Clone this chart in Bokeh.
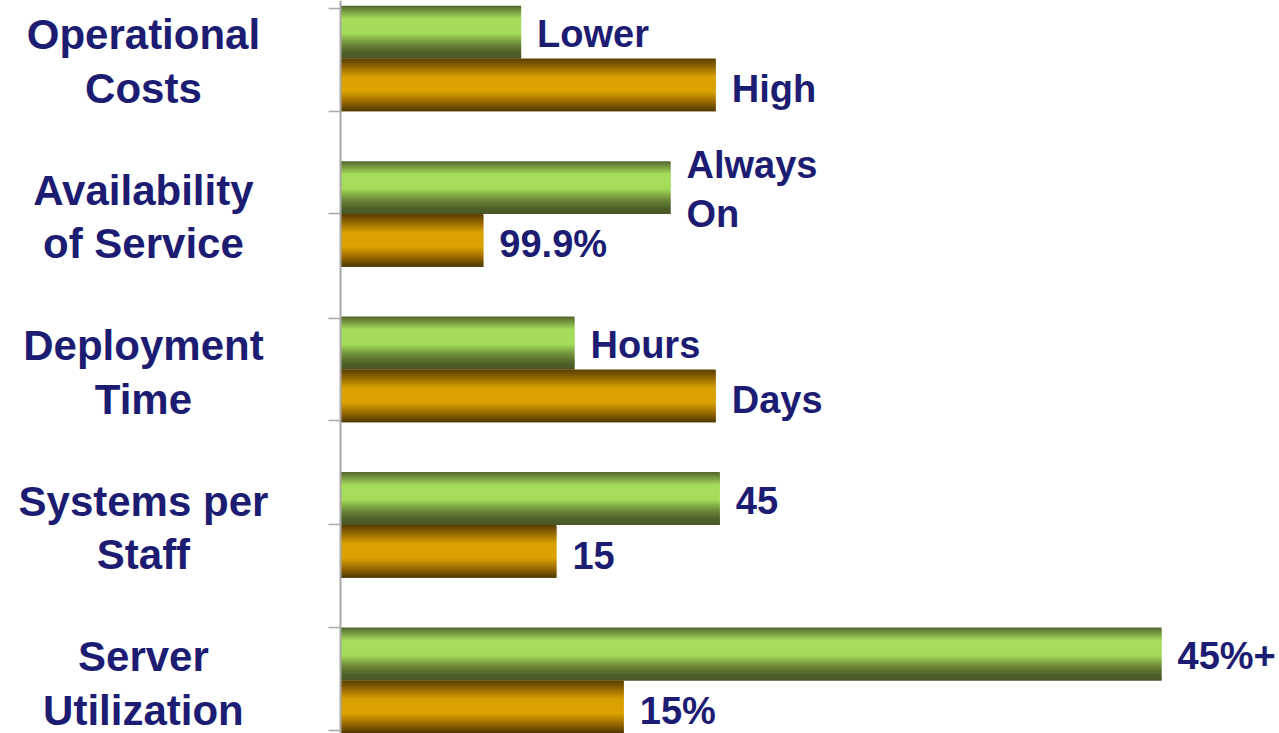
import numpy as np
from bokeh.plotting import figure
from bokeh.models import Range1d, LinearAxis, FixedTicker, ColumnDataSource
from bokeh.core.properties import value
from bokeh.embed import file_html
from bokeh.resources import INLINE

# ---------------- data ----------------
categories = ["Operational\nCosts", "Availability\nof Service", "Deployment\nTime",
              "Systems per\nStaff", "Server\nUtilization"]
new_values = [22.0, 40.2, 28.5, 46.2, 100.0]          # green bars (relative length)
new_labels = ["Lower", "Always\nOn", "Hours", "45", "45%+"]
old_values = [45.7, 17.4, 45.7, 26.3, 34.5]           # orange bars (relative length)
old_labels = ["High", "99.9%", "Days", "15", "15%"]
axis_ticks = [-0.32, 0.34, 1.0, 1.67, 2.33, 3.0, 3.66, 4.32]

# ---------------- style ----------------
TEXT_COLOR = "#1c1c72"
FONT = "Liberation Sans"
BAR_H = 0.34
N_STRIPS = 40
GREEN_STOPS = [(0.0, "#4f662c"), (0.1, "#76963f"), (0.25, "#a6de5c"), (0.52, "#a4dc5a"),
               (0.72, "#6f8c3a"), (0.88, "#4e6229"), (1.0, "#4a5526")]
ORANGE_STOPS = [(0.0, "#5a4000"), (0.14, "#8c6200"), (0.35, "#d9a000"), (0.62, "#dca200"),
                (0.82, "#9a6a00"), (1.0, "#4e3600")]


def hex2rgb(h):
    h = h.lstrip("#")
    return np.array([int(h[i:i + 2], 16) for i in (0, 2, 4)], dtype=float)


def grad_color(stops, t):
    ts = [s[0] for s in stops]
    cs = [hex2rgb(s[1]) for s in stops]
    for k in range(len(ts) - 1):
        if ts[k] <= t <= ts[k + 1]:
            f = (t - ts[k]) / (ts[k + 1] - ts[k])
            c = cs[k] * (1 - f) + cs[k + 1] * f
            return "#%02x%02x%02x" % tuple(int(round(v)) for v in c)
    return stops[-1][1]


def strips(vals, tops, stops):
    # each bar is painted as thin horizontal strips to imitate a vertical gradient
    ys, hs, rights, colors = [], [], [], []
    sh = BAR_H / N_STRIPS
    for v, top in zip(vals, tops):
        for k in range(N_STRIPS):
            t = (k + 0.5) / N_STRIPS
            # strips overlap the next one (except the last) to avoid seams
            if k < N_STRIPS - 1:
                ys.append(top + k * sh + sh)
                hs.append(2 * sh)
            else:
                ys.append(top + t * BAR_H)
                hs.append(sh)
            rights.append(v)
            colors.append(grad_color(stops, t))
    return dict(y=ys, h=hs, right=rights, color=colors)


centers = list(range(len(categories)))
green_tops = [c - BAR_H for c in centers]
orange_tops = [c for c in centers]

p = figure(width=1279, height=733, output_backend="svg", toolbar_location=None,
           x_range=Range1d(-41.41, 114.37), y_range=Range1d(4.341, -0.373),
           x_axis_type=None, y_axis_type=None, min_border=0,
           outline_line_color=None, background_fill_color="white")
p.grid.visible = False

# axis on the left of the bars, at x = 0
ax = LinearAxis(ticker=FixedTicker(ticks=axis_ticks), fixed_location=0,
                axis_line_color="#a8a8a8", axis_line_width=2,
                major_tick_line_color="#a8a8a8", major_tick_line_width=1.5,
                major_tick_out=12, major_tick_in=0, minor_tick_line_color=None,
                major_label_text_font_size="0px", major_label_text_color=None)
p.add_layout(ax, "left")

p.hbar(y="y", left=0, right="right", height="h", color="color",
       line_color=None, source=ColumnDataSource(strips(new_values, green_tops, GREEN_STOPS)))
p.hbar(y="y", left=0, right="right", height="h", color="color",
       line_color=None, source=ColumnDataSource(strips(old_values, orange_tops, ORANGE_STOPS)))

# category labels
p.text(x=[-24.0] * len(categories), y=centers, text=categories,
       text_align="center", text_baseline="middle", y_offset=3,
       text_font=value(FONT), text_font_style="bold", text_font_size="42px",
       text_color=TEXT_COLOR, text_line_height=1.14)

# value labels
p.text(x=new_values, y=[c - BAR_H / 2 for c in centers], text=new_labels,
       text_align="left", text_baseline="middle", x_offset=16, y_offset=2,
       text_font=value(FONT), text_font_style="bold", text_font_size="38px",
       text_color=TEXT_COLOR, text_line_height=1.18)
p.text(x=old_values, y=[c + BAR_H / 2 for c in centers], text=old_labels,
       text_align="left", text_baseline="middle", x_offset=16, y_offset=4,
       text_font=value(FONT), text_font_style="bold", text_font_size="38px",
       text_color=TEXT_COLOR, text_line_height=1.18)

open("out.html", "w").write(file_html(p, INLINE))
